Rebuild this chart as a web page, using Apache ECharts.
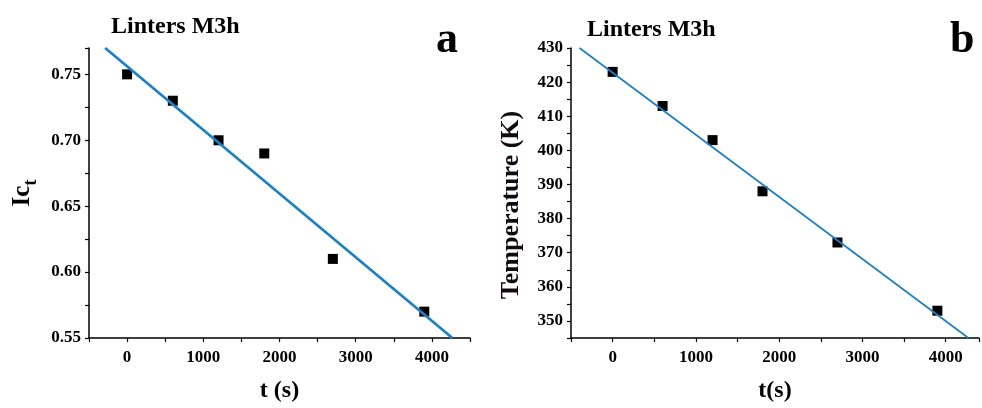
<!DOCTYPE html>
<html>
  <head>
    <meta charset="utf-8" />
    <title>Linters M3h</title>
    <style>
      html, body { margin: 0; padding: 0; background: #fff; }
      #chart-container { width: 982px; height: 408px; }
    </style>
  </head>
  <body>
    <div id="chart-container"></div>
    <script src="https://cdn.jsdelivr.net/npm/echarts@6/dist/echarts.min.js"></script>
    <script>
      // measured points
      var timeA = [0, 600, 1200, 1800, 2700, 3900];
      var icT = [0.75, 0.73, 0.70, 0.69, 0.61, 0.57];
      var timeB = [0, 600, 1200, 1800, 2700, 3900];
      var tempK = [423, 413, 403, 388, 373, 353];
      // fitted lines, ends read where they leave the frame
      var fitA = [[-288, 0.77], [4269, 0.55]];
      var fitB = [[-398, 430], [4273, 345]];

      var serif = "'Liberation Serif', 'Times New Roman', serif";
      var blue = "#1f80c2";

      var dom = document.getElementById("chart-container");
      var myChart = echarts.init(dom, null, { renderer: "canvas" });

      function pairs(xs, ys) {
        var out = [];
        for (var i = 0; i < xs.length; i++) out.push([xs[i], ys[i]]);
        return out;
      }

      function xAxisFor(idx, max, name) {
        return {
          type: "value",
          gridIndex: idx,
          min: -500,
          max: max,
          interval: 500,
          name: name,
          nameLocation: "middle",
          nameGap: 41,
          nameTextStyle: { fontFamily: serif, fontWeight: "bold", fontSize: 24, color: "#000" },
          splitLine: { show: false },
          axisLine: { onZero: false, lineStyle: { color: "#000", width: 1.5 } },
          axisTick: { length: 4, lineStyle: { color: "#000", width: 1.2 } },
          axisLabel: {
            margin: 11,
            fontFamily: serif,
            fontWeight: "bold",
            fontSize: 17,
            color: "#000",
            formatter: function (v) { return v % 1000 === 0 ? String(v) : ""; }
          }
        };
      }

      function yAxisCommon(o) {
        o.type = "value";
        o.nameLocation = "middle";
        o.splitLine = { show: false };
        o.axisLine = { show: true, onZero: false, lineStyle: { color: "#000", width: 1.5 } };
        o.axisTick = { show: true, length: 4, lineStyle: { color: "#000", width: 1.2 } };
        o.axisLabel.margin = 8;
        o.axisLabel.fontFamily = serif;
        o.axisLabel.fontWeight = "bold";
        o.axisLabel.fontSize = 17;
        o.axisLabel.color = "#000";
        return o;
      }

      var option = {
        animation: false,
        title: [
          { text: "Linters M3h", left: 106, top: 10, textStyle: { fontFamily: serif, fontWeight: "bold", fontSize: 24, color: "#000" } },
          { text: "a", left: 431, top: 14, textStyle: { fontFamily: serif, fontWeight: "bold", fontSize: 44, color: "#000" } },
          { text: "Linters M3h", left: 582, top: 13, textStyle: { fontFamily: serif, fontWeight: "bold", fontSize: 24, color: "#000" } },
          { text: "b", left: 945, top: 14, textStyle: { fontFamily: serif, fontWeight: "bold", fontSize: 44, color: "#000" } }
        ],
        grid: [
          { left: 89, right: 512, top: 48, bottom: 65 },
          { left: 571, right: 1, top: 48, bottom: 66 }
        ],
        xAxis: [xAxisFor(0, 4500, "t (s)"), xAxisFor(1, 4400, "t(s)")],
        yAxis: [
          yAxisCommon({
            gridIndex: 0,
            min: 0.55,
            max: 0.77,
            interval: 0.025,
            name: "{a|Ic}{b|t}",
            nameGap: 54,
            nameTextStyle: {
              rich: {
                a: { fontFamily: serif, fontWeight: "bold", fontSize: 25, color: "#000", lineHeight: 30, verticalAlign: "bottom" },
                b: { fontFamily: serif, fontWeight: "bold", fontSize: 19, color: "#000", verticalAlign: "bottom", lineHeight: 30, padding: [0, 0, -6, 0] }
              }
            },
            axisLabel: {
              formatter: function (v) { return Math.round(v * 1000) % 50 === 0 ? v.toFixed(2) : ""; }
            }
          }),
          yAxisCommon({
            gridIndex: 1,
            min: 345,
            max: 430,
            interval: 5,
            name: "Temperature (K)",
            nameGap: 47,
            nameTextStyle: { fontFamily: serif, fontWeight: "bold", fontSize: 26, color: "#120a10", padding: [0, 24, 0, 0] },
            axisLabel: {
              formatter: function (v) { return v % 10 === 0 ? String(v) : ""; }
            }
          })
        ],
        series: [
          {
            type: "line",
            xAxisIndex: 0,
            yAxisIndex: 0,
            data: fitA,
            showSymbol: false,
            clip: true,
            lineStyle: { color: blue, width: 2.8 },
            z: 2
          },
          {
            type: "scatter",
            xAxisIndex: 0,
            yAxisIndex: 0,
            data: pairs(timeA, icT),
            symbol: "rect",
            symbolSize: 10,
            itemStyle: { color: "#000", opacity: 1 },
            z: 1
          },
          {
            type: "line",
            xAxisIndex: 1,
            yAxisIndex: 1,
            data: fitB,
            showSymbol: false,
            clip: true,
            lineStyle: { color: blue, width: 1.8 },
            z: 2
          },
          {
            type: "scatter",
            xAxisIndex: 1,
            yAxisIndex: 1,
            data: pairs(timeB, tempK),
            symbol: "rect",
            symbolSize: 10,
            itemStyle: { color: "#000", opacity: 1 },
            z: 1
          }
        ]
      };

      myChart.setOption(option);
      window.addEventListener("resize", myChart.resize);
    </script>
  </body>
</html>
